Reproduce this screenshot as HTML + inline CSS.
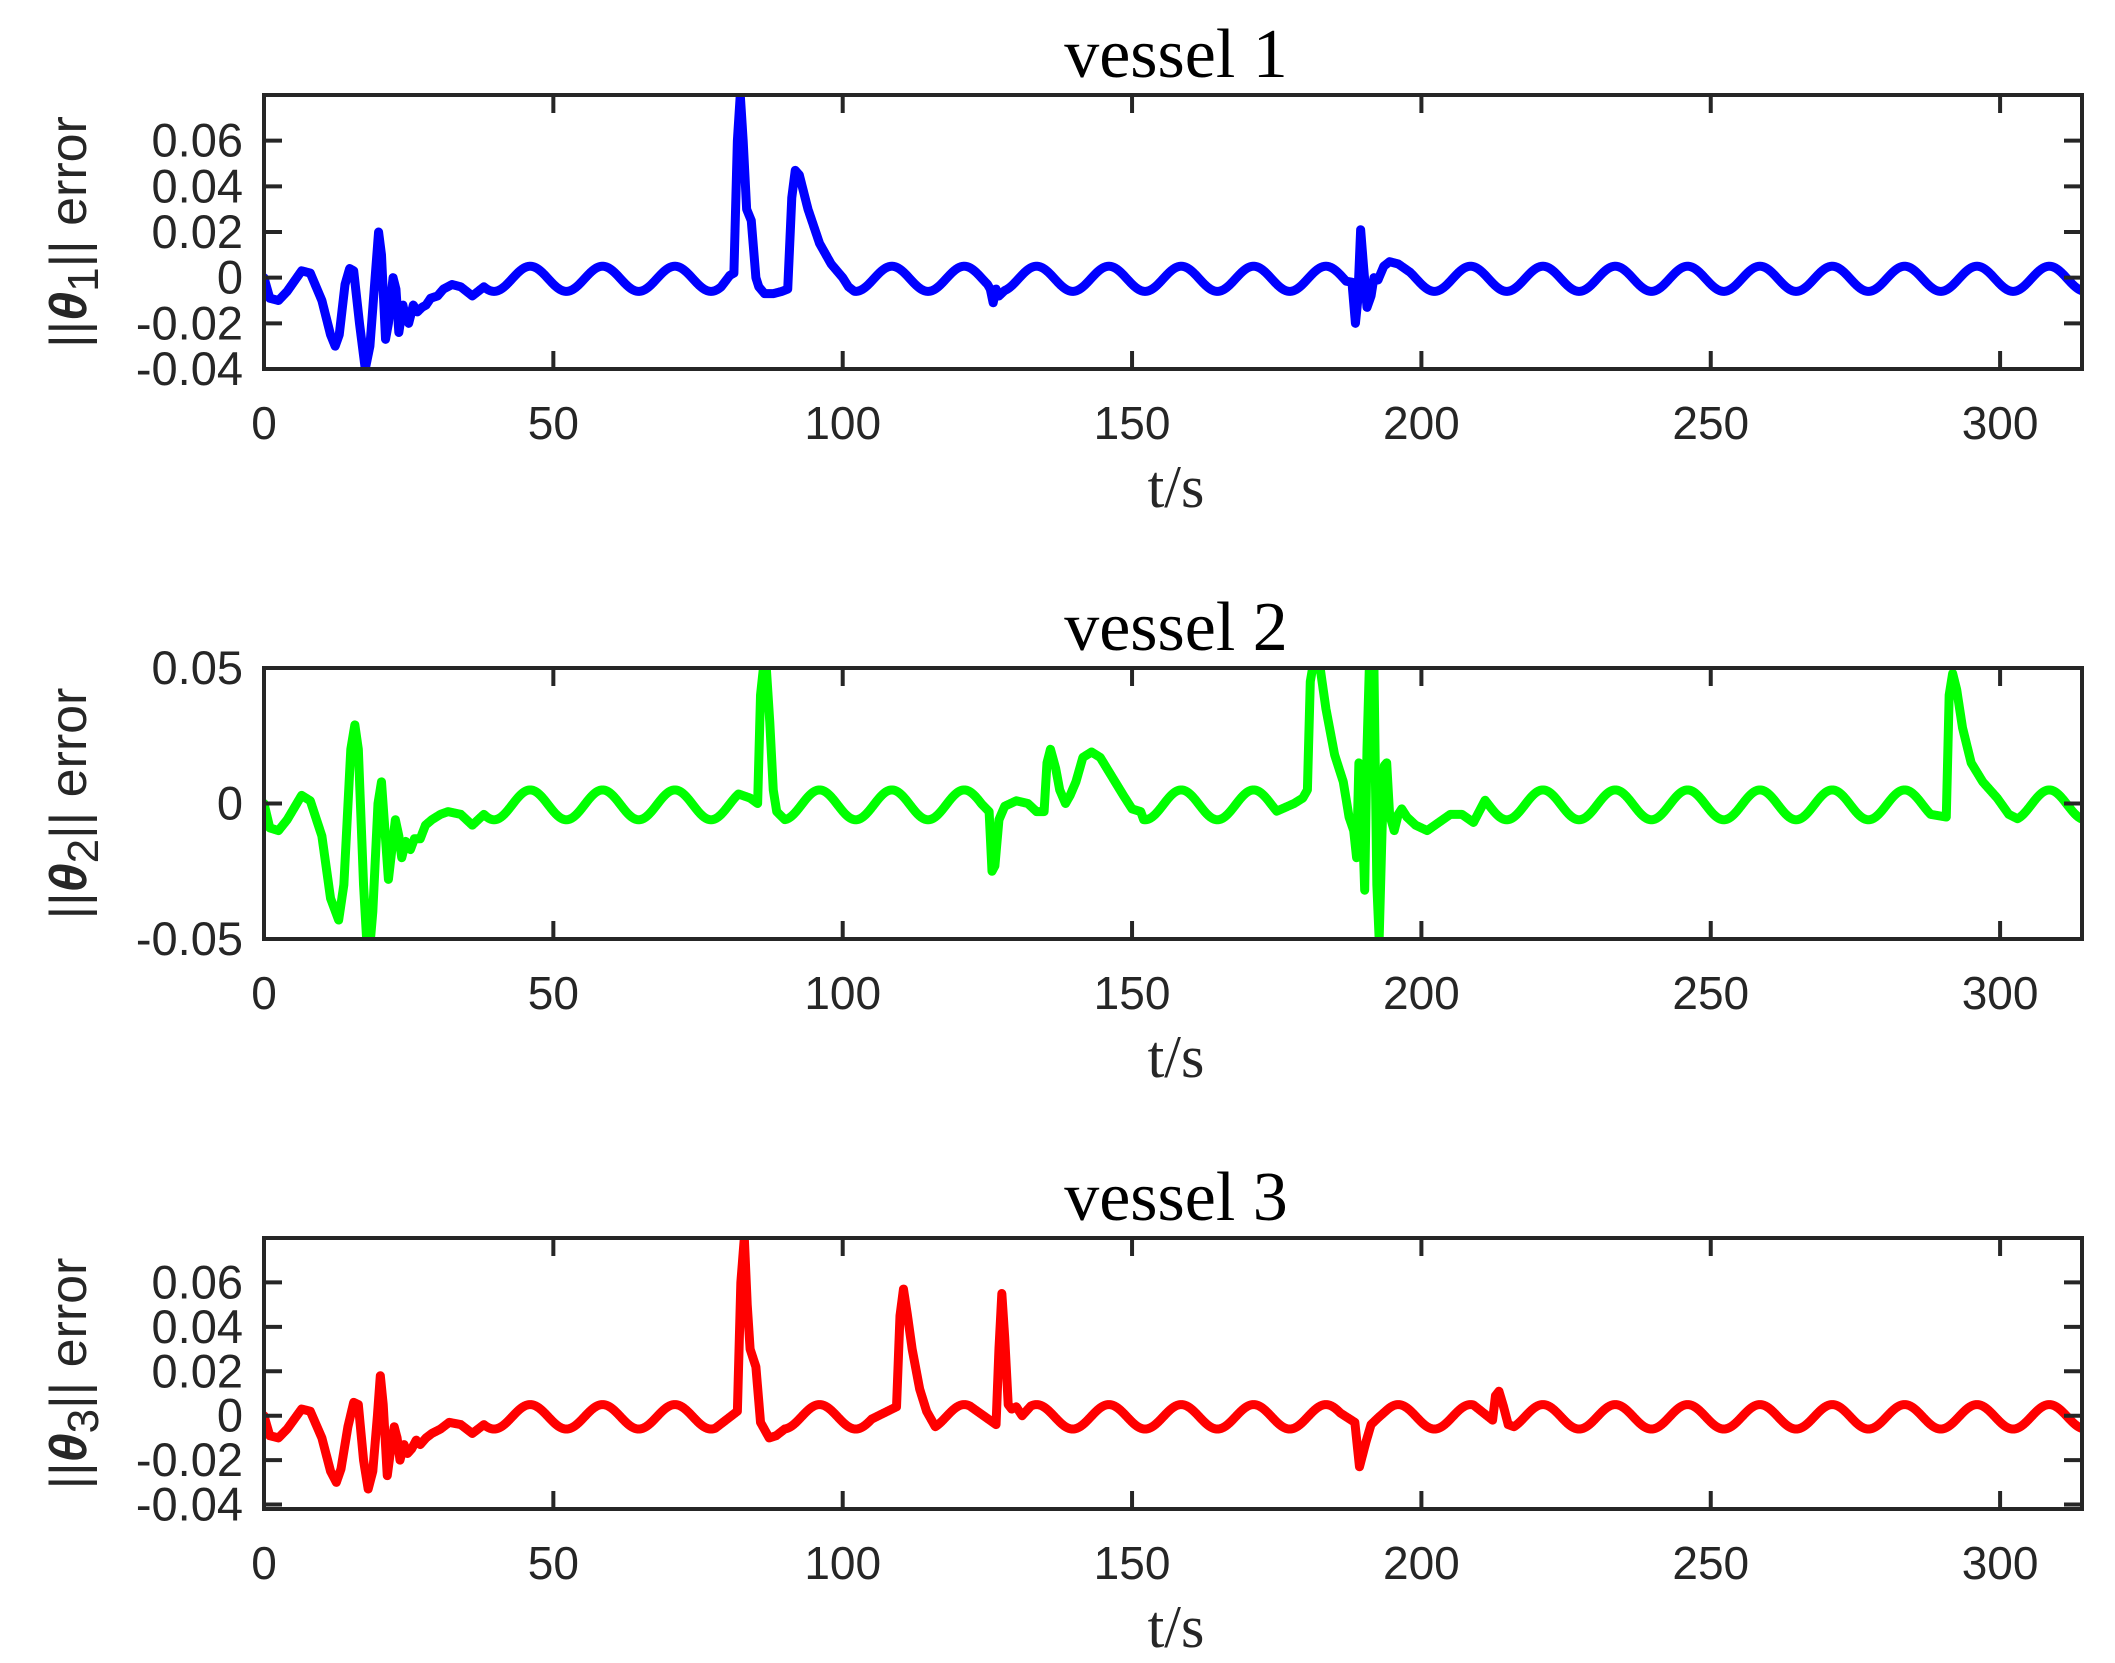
<!DOCTYPE html>
<html><head><meta charset="utf-8"><style>
html,body{margin:0;padding:0;background:#fff;}
svg{display:block;}
</style></head><body>
<svg id="s" width="2115" height="1663" xmlns="http://www.w3.org/2000/svg">
<defs>
<clipPath id="c1"><rect x="264" y="95" width="1818" height="274"/></clipPath>
<clipPath id="c2"><rect x="264" y="668" width="1818" height="271"/></clipPath>
<clipPath id="c3"><rect x="264" y="1238" width="1818" height="271"/></clipPath>
</defs>
<g id="g"></g>
</svg>
<script>
var NS="http://www.w3.org/2000/svg";
var g=document.getElementById('g');
function el(t,a,txt){var e=document.createElementNS(NS,t);for(var k in a)e.setAttribute(k,a[k]);if(txt!==undefined)e.textContent=txt;g.appendChild(e);return e;}
var X0=264,X1=2082,TMAX=(X1-X0)/5.787;
function xp(t){return X0+t*5.787;}
function base(t){return -0.0005+0.0055*Math.cos(2*Math.PI*(t-296)/12.5);}
function mk(segs){
  return function(t){
    for(var i=0;i<segs.length;i++){var s=segs[i];
      if(t>=s[0][0]&&t<=s[s.length-1][0]){
        for(var j=0;j<s.length-1;j++){var a=s[j],b=s[j+1];
          if(t>=a[0]&&t<=b[0]){var va=a[1]===null?base(a[0]):a[1],vb=b[1]===null?base(b[0]):b[1];
            var f=(t-a[0])/(b[0]-a[0]);return va+(vb-va)*f;}}
      }}
    return base(t);
  };
}
var early1=[[0,0],[1,-0.009],[2.5,-0.01],[4,-0.006],[6.5,0.003],[8,0.002],[10,-0.01],[11.5,-0.025],[12.3,-0.03],[13,-0.025],[14,-0.003],[14.8,0.004],[15.5,0.003],[16.5,-0.02],[17.5,-0.04],[18.3,-0.03],[19.2,0],[19.8,0.02],[20.3,0.01],[21,-0.027],[21.5,-0.02],[22.3,0],[22.8,-0.005],[23.3,-0.024],[24,-0.012],[24.5,-0.018],[25,-0.02],[25.8,-0.012],[26.5,-0.015],[27.3,-0.013],[28,-0.012],[28.8,-0.009],[30,-0.008],[31,-0.005],[32.5,-0.003],[34,-0.004],[36,-0.008],[38,null]];
var f1=mk([early1,
 [[79,null],[80.5,0.001],[81.2,0.002],[81.8,0.06],[82.3,0.08],[82.8,0.06],[83.4,0.03],[84.2,0.025],[85,0.0],[85.5,-0.004],[86.5,-0.007],[88,-0.007],[89.5,-0.006],[90.5,-0.005],[91.2,0.035],[91.8,0.047],[92.5,0.045],[94,0.03],[96,0.015],[98,0.006],[100,0],[101,-0.004],[102,null]],
 [[125,null],[125.5,-0.005],[126,-0.011],[126.5,-0.005],[127,-0.008],[128,null]],
 [[187,null],[188,-0.002],[188.6,-0.02],[189,-0.01],[189.5,0.021],[190,0.005],[190.6,-0.013],[191.3,-0.008],[191.8,0.0],[192.5,-0.001],[193.5,0.005],[194.5,0.007],[196,0.006],[198,null]]]);
var f2=mk([
 [[0,0],[1,-0.009],[2.5,-0.01],[4,-0.006],[6.5,0.003],[8,0.001],[10,-0.012],[11.5,-0.035],[12.9,-0.043],[13.8,-0.03],[15,0.02],[15.7,0.029],[16.3,0.02],[17.2,-0.03],[18,-0.06],[18.8,-0.04],[19.7,0],[20.3,0.008],[20.9,-0.01],[21.5,-0.028],[22.2,-0.015],[22.7,-0.006],[23.3,-0.012],[23.8,-0.02],[24.5,-0.014],[25.3,-0.017],[26,-0.013],[27,-0.013],[27.9,-0.008],[29,-0.006],[30.5,-0.004],[31.8,-0.003],[34,-0.004],[36,-0.008],[38,null]],
 [[82,null],[84,0.002],[85.3,0.0],[85.8,0.04],[86.3,0.05],[86.8,0.05],[87.4,0.03],[88,0.005],[88.6,-0.003],[90,null]],
 [[124,null],[125.3,-0.003],[125.8,-0.025],[126.3,-0.023],[127,-0.006],[128,-0.001],[130,0.001],[132,0.0],[133.5,-0.003],[134.8,-0.003],[135.3,0.015],[135.9,0.02],[136.8,0.013],[137.5,0.005],[138.5,0.0],[139.3,0.003],[140.3,0.008],[141.5,0.017],[143,0.019],[144.5,0.017],[146.5,0.01],[148.5,0.003],[150,-0.002],[151.5,-0.003],[152,null]],
 [[175,null],[178,0.0],[179.5,0.002],[180.3,0.005],[180.8,0.045],[181.2,0.05],[182.5,0.05],[183.5,0.035],[185,0.018],[186.5,0.008],[187.5,-0.005],[188.3,-0.01],[188.8,-0.02],[189.2,0.015],[189.7,0.0],[190.2,-0.032],[190.6,0.02],[191,0.05],[191.8,0.05],[192.3,-0.03],[192.7,-0.05],[193.2,-0.01],[193.6,0.014],[194,0.015],[194.5,-0.004],[195.3,-0.01],[196,-0.004],[196.6,-0.002],[197.5,-0.005],[199,-0.008],[201,-0.01],[203,-0.007],[205,-0.004],[207,-0.004],[209,-0.007],[211,null]],
 [[288,null],[290.7,-0.005],[291.2,0.04],[291.8,0.048],[292.5,0.042],[293.5,0.028],[295,0.015],[297,0.008],[299.5,0.002],[301.5,-0.004],[303,null]]]);
var f3=mk([
 [[0,0],[1,-0.009],[2.5,-0.01],[4,-0.006],[6.5,0.003],[8,0.002],[10,-0.01],[11.5,-0.025],[12.5,-0.03],[13.3,-0.024],[14.5,-0.005],[15.5,0.006],[16.3,0.005],[17.2,-0.02],[18,-0.033],[18.8,-0.025],[19.6,0.0],[20.1,0.018],[20.6,0.005],[21.3,-0.027],[21.9,-0.015],[22.5,-0.005],[23,-0.01],[23.5,-0.02],[24.2,-0.013],[24.8,-0.017],[25.5,-0.015],[26.3,-0.011],[27,-0.013],[28,-0.01],[29,-0.008],[30.5,-0.006],[32,-0.003],[34,-0.004],[36,-0.008],[38,null]],
 [[78,null],[81.8,0.002],[82.4,0.06],[83,0.08],[83.5,0.05],[84,0.03],[85,0.022],[85.8,-0.003],[87.3,-0.01],[88.5,-0.009],[90,null]],
 [[105,null],[108.5,0.003],[109.3,0.004],[109.9,0.045],[110.5,0.057],[111.2,0.045],[112,0.03],[113.3,0.012],[114.5,0.002],[116,null]],
 [[122,null],[126.5,-0.004],[127,0.03],[127.5,0.055],[128,0.035],[128.6,0.005],[129.2,0.003],[130,0.004],[131,0.0],[132.5,null]],
 [[186,null],[188.5,-0.003],[189.3,-0.023],[189.8,-0.018],[190.4,-0.012],[191.3,-0.004],[192.5,-0.001],[194,null]],
 [[209,null],[212.3,-0.002],[212.8,0.009],[213.4,0.011],[214.2,0.004],[215,-0.004],[216,null]]]);
function pathOf(f,y0,ymin,ymax,h){
  var d="";for(var i=0;i<=TMAX*20;i++){var t=i/20;var v=f(t);var y=y0+h-(v-ymin)/(ymax-ymin)*h;d+=(i?"L":"M")+xp(t).toFixed(2)+" "+y.toFixed(2);}
  return d;
}
var plots=[
 {y0:95,h:274,ymin:-0.04,ymax:0.08,ticks:[-0.04,-0.02,0,0.02,0.04,0.06],lab:["-0.04","-0.02","0","0.02","0.04","0.06"],f:f1,col:"#0000ff",clip:"c1",title:"vessel 1",sub:"1"},
 {y0:668,h:271,ymin:-0.05,ymax:0.05,ticks:[-0.05,0,0.05],lab:["-0.05","0","0.05"],f:f2,col:"#00ff00",clip:"c2",title:"vessel 2",sub:"2"},
 {y0:1238,h:271,ymin:-0.042,ymax:0.08,ticks:[-0.04,-0.02,0,0.02,0.04,0.06],lab:["-0.04","-0.02","0","0.02","0.04","0.06"],f:f3,col:"#ff0000",clip:"c3",title:"vessel 3",sub:"3"}
];
plots.forEach(function(p){
  var y0=p.y0,h=p.h,yb=y0+h;
  function yp(v){return yb-(v-p.ymin)/(p.ymax-p.ymin)*h;}
  el('path',{d:pathOf(p.f,y0,p.ymin,p.ymax,h),fill:'none',stroke:p.col,'stroke-width':9,'stroke-linejoin':'round','stroke-linecap':'round','clip-path':'url(#'+p.clip+')'});
  el('rect',{x:X0,y:y0,width:X1-X0,height:h,fill:'none',stroke:'#262626','stroke-width':4});
  for(var t=0;t<=300;t+=50){var x=xp(t);
    el('line',{x1:x,y1:y0,x2:x,y2:y0+18,stroke:'#262626','stroke-width':4});
    el('line',{x1:x,y1:yb,x2:x,y2:yb-18,stroke:'#262626','stroke-width':4});
    el('text',{x:x,y:yb+70,'text-anchor':'middle','font-family':'Liberation Sans, sans-serif','font-size':46,fill:'#262626'},String(t));}
  p.ticks.forEach(function(v,i){var y=yp(v);
    el('line',{x1:X0,y1:y,x2:X0+18,y2:y,stroke:'#262626','stroke-width':4});
    el('line',{x1:X1,y1:y,x2:X1-18,y2:y,stroke:'#262626','stroke-width':4});
    el('text',{x:243,y:y+16,'text-anchor':'end','font-family':'Liberation Sans, sans-serif','font-size':47,fill:'#262626'},p.lab[i]);});
  el('text',{x:1176,y:y0-18,'text-anchor':'middle','font-family':'Liberation Serif, serif','font-size':70,fill:'#000'},p.title);
  el('text',{x:1176,y:yb+138,'text-anchor':'middle','font-family':'Liberation Serif, serif','font-size':60,fill:'#262626'},'t/s');
  var cy=y0+h/2;
  var tx=el('text',{x:0,y:0,'text-anchor':'middle','font-family':'Liberation Sans, sans-serif','font-size':52,fill:'#262626',transform:'translate(86,'+cy+') rotate(-90)'});
  var a=document.createElementNS(NS,'tspan');a.textContent='||';tx.appendChild(a);
  var b=document.createElementNS(NS,'tspan');b.setAttribute('font-weight','bold');b.setAttribute('font-style','italic');b.textContent='θ';tx.appendChild(b);
  var c=document.createElementNS(NS,'tspan');c.setAttribute('dy','12');c.setAttribute('font-size','44');c.textContent=p.sub;tx.appendChild(c);
  var d=document.createElementNS(NS,'tspan');d.setAttribute('dy','-12');d.textContent='|| error';tx.appendChild(d);
});
</script>
</body></html>
